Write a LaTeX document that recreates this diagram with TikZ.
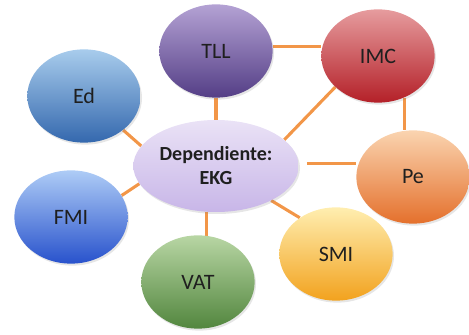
\documentclass[tikz,border=0pt]{standalone}
\usepackage{fontspec}
\setmainfont{Carlito}
\usetikzlibrary{shapes.geometric,shadows,backgrounds}

\definecolor{tlltop}{RGB}{180,162,212}
\definecolor{tllbot}{RGB}{84,62,134}
\definecolor{imctop}{RGB}{230,156,158}
\definecolor{imcbot}{RGB}{180,32,40}
\definecolor{edtop}{RGB}{168,204,236}
\definecolor{edbot}{RGB}{52,104,174}
\definecolor{deptop}{RGB}{234,226,246}
\definecolor{depbot}{RGB}{200,182,232}
\definecolor{petop}{RGB}{250,212,176}
\definecolor{pebot}{RGB}{228,112,44}
\definecolor{fmitop}{RGB}{174,204,246}
\definecolor{fmibot}{RGB}{40,82,204}
\definecolor{vattop}{RGB}{184,214,164}
\definecolor{vatbot}{RGB}{82,134,62}
\definecolor{smitop}{RGB}{255,238,176}
\definecolor{smibot}{RGB}{242,162,30}
\definecolor{linkorange}{RGB}{242,150,72}

\begin{document}
\begin{tikzpicture}[x=0.75pt, y=-0.75pt,
    blob/.style={ellipse, minimum width=85pt, minimum height=70pt, inner sep=0pt,
      font=\fontsize{16.5}{18}\selectfont, text=black!88,
      drop shadow={shadow xshift=1pt, shadow yshift=-1.5pt, opacity=0.2}},
    link/.style={draw=linkorange, line width=2.3pt}]
      \useasboundingbox (0, 0) rectangle (469, 335);

      \node[blob, top color=tlltop, bottom color=tllbot] (tll) at (216, 51) {TLL};
      \node[blob, top color=imctop, bottom color=imcbot] (imc) at (378, 56) {IMC};
      \node[blob, top color=edtop, bottom color=edbot] (ed) at (84, 96) {Ed};
      \node[blob, minimum width=124pt, minimum height=69pt, top color=deptop, bottom color=depbot,
        font=\fontsize{15}{18}\selectfont\bfseries, align=center] (dep) at (216, 166) {Dependiente:\\EKG};
      \node[blob, top color=petop, bottom color=pebot] (pe) at (413, 177) {Pe};
      \node[blob, top color=fmitop, bottom color=fmibot] (fmi) at (71, 217) {FMI};
      \node[blob, top color=vattop, bottom color=vatbot] (vat) at (198, 282) {VAT};
      \node[blob, top color=smitop, bottom color=smibot] (smi) at (336, 254) {SMI};

      % links, drawn under the ellipses
      \begin{scope}[on background layer]
      \path[link] (tll.5) -- (tll.5 -| imc.west);
      \path[link] (tll.south) -- (dep.north);
      \path[link] (imc.216) -- (dep.21);
      \path[link] (imc.-58) -- (imc.-58 |- pe.north);
      \path[link] ([xshift=6pt]dep.2) -- (dep.2 -| pe.west);
      \path[link] (ed.-41) -- (dep.165);
      \path[link] (fmi.23) -- (dep.193);
      \path[link] (vat.80) -- (vat.80 |- dep.south);
      \path[link] (smi.135) -- (dep.-32);
      \end{scope}
    \end{tikzpicture}
\end{document}
